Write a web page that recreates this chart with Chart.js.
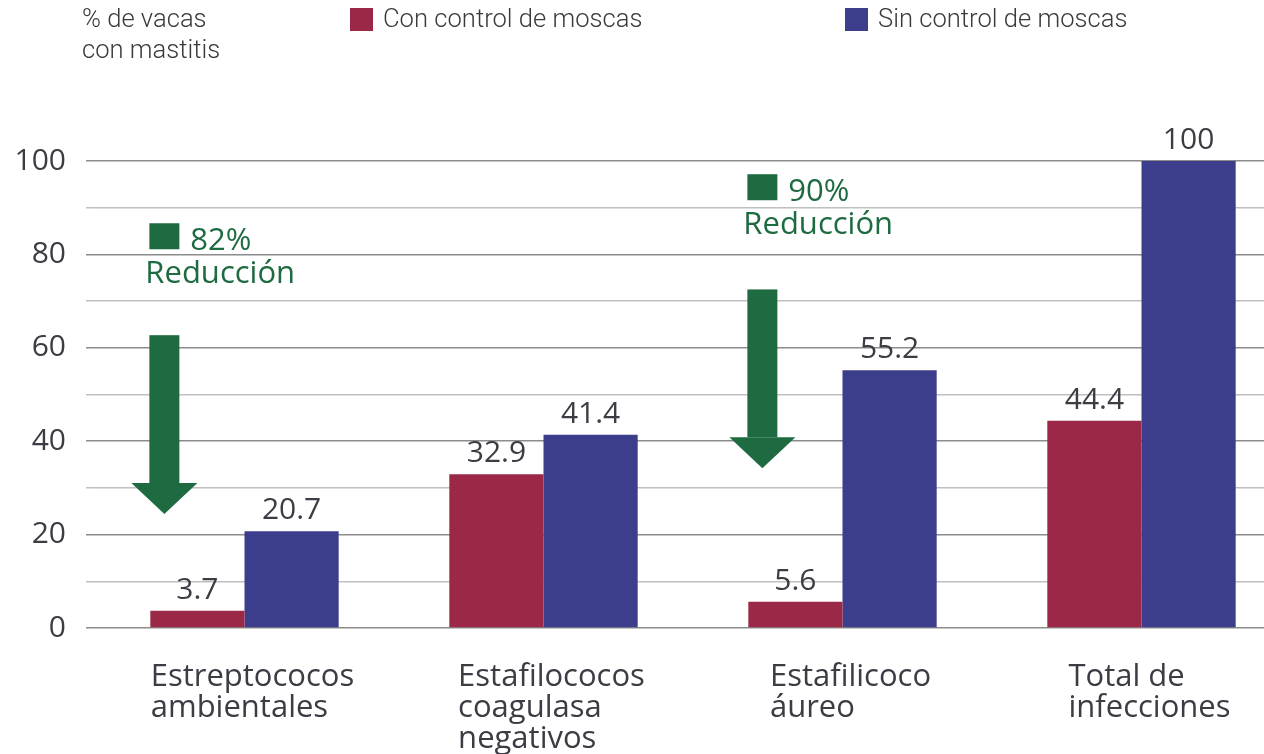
<!DOCTYPE html>
<html lang="es">
<head>
<meta charset="utf-8">
<title>Mastitis y control de moscas</title>
<script src="https://cdn.jsdelivr.net/npm/chart.js@4.4.1/dist/chart.umd.min.js"></script>
<style>
  html, body { margin: 0; padding: 0; background: #fff; overflow: hidden; }
  #wrap { position: relative; width: 1264px; height: 754px; overflow: hidden; }
  #chart { position: absolute; left: 0; top: 0; }
  .hdr { position: absolute; font-family: Roboto, "Liberation Sans", sans-serif; font-weight: 300;
         font-size: 25.6px; line-height: 31px; color: #3a3a3a; white-space: nowrap; }
  .sw { position: absolute; width: 23px; height: 23px; }
</style>
</head>
<body>
<div id="wrap">
  <!-- el lienzo es un poco más ancho: la última rejilla se corta en el borde -->
  <canvas id="chart" width="1291" height="754"></canvas>
  <div class="hdr" style="left:82px; top:3px;">% de vacas<br>con mastitis</div>
  <div id="legend"></div>
</div>
<script>
/* ── data ─────────────────────────────────────────────── */
const categorias   = [['Estreptococos', 'ambientales'],
                      ['Estafilococos', 'coagulasa', 'negativos'],
                      ['Estafilicoco', 'áureo'],
                      ['Total de', 'infecciones']];
const serieNombres = ['Con control de moscas', 'Sin control de moscas'];
const conControl   = [3.7, 32.9, 5.6, 44.4];
const sinControl   = [20.7, 41.4, 55.2, 100];
const yMin = 0, yMax = 100, yPaso = 10, yEtiquetaPaso = 20;

// flechas de reducción (categoría, % texto, tope, punta, base del texto)
const reduccionCat   = [0, 2];
const reduccionTexto = ['82%', '90%'];
const flechaTope     = [62.7, 72.5];
const flechaPunta    = [24.4, 34.2];
const notaBase       = [81.1, 91.6];

/* ── estilos ──────────────────────────────────────────── */
const ROJO  = '#9b2846';
const AZUL  = '#3c3e8c';
const VERDE = '#1f6b41';
const TEXTO = '#3d3c44';
const FUENTE = '"Open Sans", "Noto Sans", sans-serif';

// leyenda HTML
(function leyenda() {
  const el = document.getElementById('legend');
  const xs = [350, 845];
  [ROJO, AZUL].forEach((c, i) => {
    el.insertAdjacentHTML('beforeend',
      `<div class="sw" style="left:${xs[i]}px; top:8px; background:${c}"></div>` +
      `<div class="hdr" style="left:${xs[i] + 33}px; top:3px;">${serieNombres[i]}</div>`);
  });
})();

/* ── plugin: valores, etiquetas de categoría y flechas ── */
const anotaciones = {
  id: 'anotaciones',
  afterDatasetsDraw(chart) {
    const { ctx, scales: { x, y } } = chart;
    ctx.save();

    // valores sobre las barras
    ctx.font = '30px ' + FUENTE;
    ctx.fillStyle = TEXTO;
    ctx.textAlign = 'center';
    ctx.textBaseline = 'alphabetic';
    chart.data.datasets.forEach((ds, di) => {
      chart.getDatasetMeta(di).data.forEach((bar, i) => {
        ctx.fillText(String(ds.data[i]), bar.x, bar.y - 12);
      });
    });

    // etiquetas de categoría (bloque alineado a la izquierda)
    ctx.font = '31px ' + FUENTE;
    ctx.textAlign = 'left';
    categorias.forEach((lineas, i) => {
      const cx = x.getPixelForValue(i);
      const w = Math.max(...lineas.map(l => ctx.measureText(l).width));
      lineas.forEach((l, k) => ctx.fillText(l, cx - w / 2 + 8, y.bottom + 58 + k * 31));
    });

    // flechas verdes
    const anchoCat = x.width / categorias.length;
    reduccionCat.forEach((ci, k) => {
      const cx = x.getPixelForValue(ci) - 0.268 * anchoCat;
      const tope = y.getPixelForValue(flechaTope[k]);
      const punta = y.getPixelForValue(flechaPunta[k]);
      const cuello = punta - 31;
      ctx.fillStyle = VERDE;
      ctx.fillRect(cx - 15, tope, 30, cuello - tope);
      ctx.beginPath();
      ctx.moveTo(cx - 33, cuello);
      ctx.lineTo(cx + 33, cuello);
      ctx.lineTo(cx, punta);
      ctx.closePath();
      ctx.fill();

      const base = y.getPixelForValue(notaBase[k]);
      ctx.fillRect(cx - 15, base - 26, 30, 26);
      ctx.font = '31px ' + FUENTE;
      ctx.fillText(reduccionTexto[k], cx + 26, base + 1);
      ctx.fillText('Reducción', cx - 19, base + 34);
    });

    ctx.restore();
  }
};

new Chart(document.getElementById('chart'), {
  type: 'bar',
  data: {
    labels: categorias,
    datasets: [
      { label: serieNombres[0], data: conControl, backgroundColor: ROJO,
        categoryPercentage: 0.63, barPercentage: 1.0 },
      { label: serieNombres[1], data: sinControl, backgroundColor: AZUL,
        categoryPercentage: 0.63, barPercentage: 1.0 },
    ]
  },
  options: {
    responsive: false,
    animation: false,
    layout: { padding: { top: 161, bottom: 126, left: 0, right: 0 } },
    plugins: {
      legend: { display: false },
      tooltip: { enabled: false },
    },
    scales: {
      x: { display: false },
      y: {
        min: yMin, max: yMax,
        afterFit: s => { s.width = 95; },
        border: { display: false },
        grid: {
          lineWidth: 1.5,
          tickLength: 9,
          color: c => (c.tick && c.tick.value % yEtiquetaPaso === 0) ? '#8c8c8c' : '#c0c0c0',
        },
        ticks: {
          stepSize: yPaso,
          padding: 20,
          color: TEXTO,
          font: { family: FUENTE, size: 30 },
          callback: v => (v % yEtiquetaPaso === 0 ? v : ''),
        }
      }
    }
  },
  plugins: [anotaciones]
});
</script>
</body>
</html>
